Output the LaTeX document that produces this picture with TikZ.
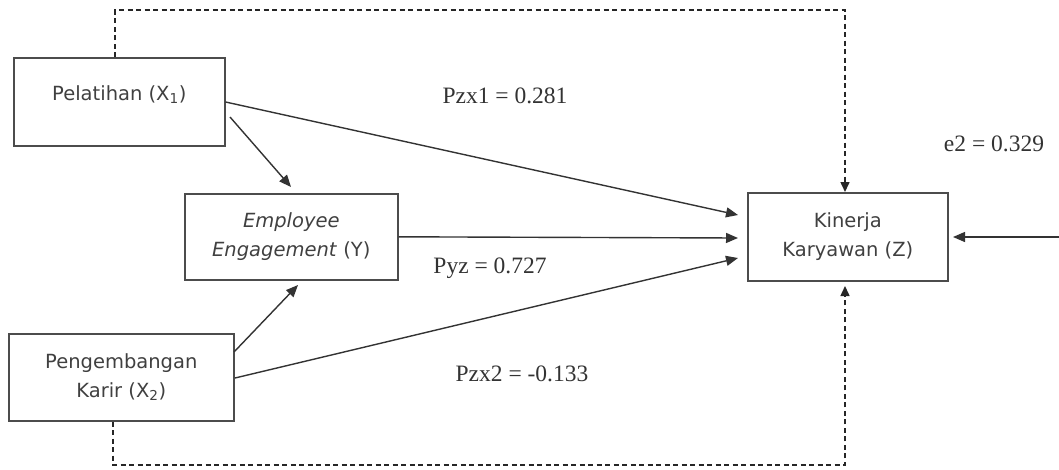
\documentclass[tikz,border=0pt]{standalone}
\usepackage{fontspec}
\setmainfont{DejaVu Sans}
\newfontfamily\lblfont{Liberation Serif}
\usetikzlibrary{arrows.meta}
\begin{document}
\begin{tikzpicture}[x=1pt,y=-1pt,
  box/.style={draw=black!70, line width=1.6pt, inner sep=0pt, align=center, font=\fontsize{19.5}{29}\selectfont, text=black!75},
  arr/.style={draw=black!80, line width=1.4pt, -{Triangle[length=12pt,width=10pt]}},
  dsh/.style={draw=black!85, line width=1.5pt, dash pattern=on 5pt off 3.5pt},
  lbl/.style={font=\lblfont\fontsize{23.5}{26}\selectfont, text=black!80, inner sep=0pt}]
\useasboundingbox (0,0) rectangle (1059,469);
\node[box, minimum width=211pt, minimum height=88pt, anchor=north west] (x1) at (13,57) {\raisebox{18pt}{Pelatihan (X\textsubscript{1})}};
\node[box, minimum width=213pt, minimum height=86pt, anchor=north west] (y) at (184,193) {\textit{Employee}\\\textit{Engagement} (Y)};
\node[box, minimum width=225pt, minimum height=87pt, anchor=north west] (x2) at (8,333) {Pengembangan\\Karir (X\textsubscript{2})};
\node[box, minimum width=200pt, minimum height=88pt, anchor=north west] (z) at (747,192) {Kinerja\\Karyawan (Z)};
\coordinate (ein) at (1059,237);
\coordinate (t1) at (115,10);
\coordinate (t2) at (845,10);
\coordinate (b1) at (113,465);
\coordinate (b2) at (845,465);
\node[lbl] (l1) at (505,96) {Pzx1 = 0.281};
\node[lbl] (l2) at (490,268) {Pyz = 0.727};
\node[lbl] (l3) at (522,374) {Pzx2 = -0.133};
\node[lbl] (l4) at (994,144) {e2 = 0.329};
\draw[arr] (x1.east |- 0,102) -- (738,215);
\draw[arr] (230,117) -- (291,187);
\draw[arr] (y.east) -- (738,238);
\draw[arr] (235,378) -- (738,258);
\draw[arr] (234,352) -- (298,285);
\draw[arr] (ein) -- (953,237);
\draw[dsh, -{Triangle[length=10pt,width=9pt]}] (x1.north -| t1) -- (t1) -- (t2) -- (z.north -| t2);
\draw[dsh, -{Triangle[length=10pt,width=9pt]}] (x2.south -| b1) -- (b1) -- (b2) -- (845,286);
\end{tikzpicture}
\end{document}
